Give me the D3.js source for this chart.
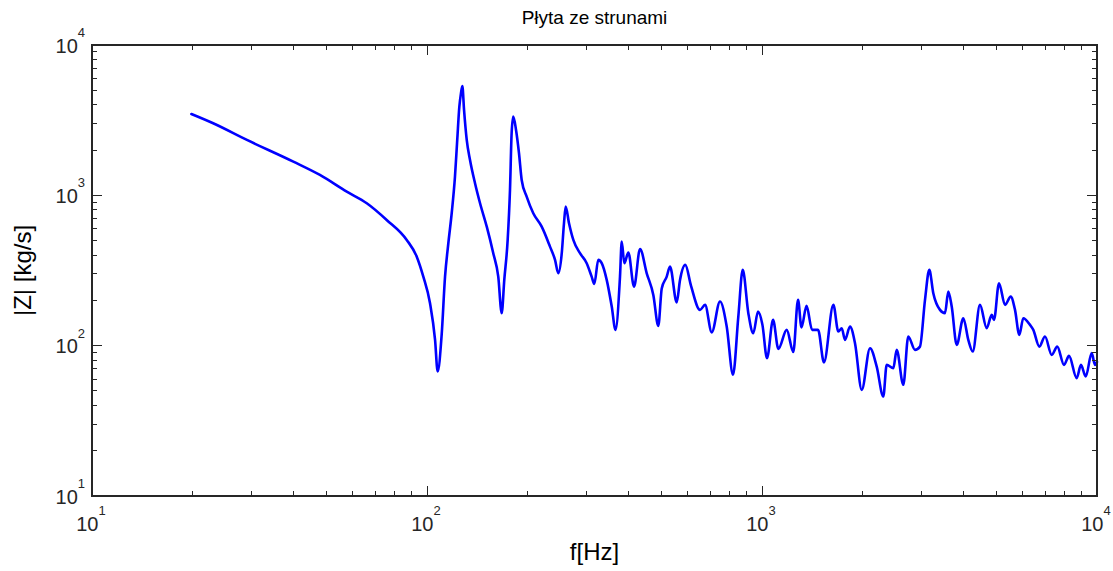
<!DOCTYPE html>
<html>
<head>
<meta charset="utf-8">
<script src="https://cdn.jsdelivr.net/npm/d3@7"></script>
<style>
  html, body { margin: 0; padding: 0; background: #fff; }
  svg { display: block; font-family: "Liberation Sans", Arial, sans-serif; }
</style>
</head>
<body>
<svg id="chart" width="1113" height="571"></svg>
<script>
const title = "Płyta ze strunami";
const xLabel = "f[Hz]";
const yLabel = "|Z| [kg/s]";
const xDecades = [1, 2, 3, 4];
const yDecades = [1, 2, 3, 4];

const freq = [19.8, 23.0, 29.0, 39.9, 47.9, 57.6, 66.1, 75.8, 87.0, 93.2, 97.5, 102.1, 105.7, 107.6, 110.6,
  113.2, 115.8, 118.5, 121.2, 123.1, 124.9, 126.3, 127.5, 129.0, 131.4, 134.4, 139.1, 144.0, 150.8, 157.7,
  163.2, 167.1, 170.1, 174.1, 176.9, 178.9, 180.9, 184.4, 188.2, 191.7, 198.4, 207.6, 220.0, 232.9, 241.1,
  246.6, 252.5, 256.4, 259.4, 265.4, 273.4, 286.2, 299.7, 310.1, 315.8, 324.6, 332.3, 343.9, 356.0, 365.3,
  376.8, 381.3, 388.2, 399.0, 415.0, 432.4, 452.8, 473.8, 490.3, 502.0, 519.5, 531.4, 556.5, 569.2, 590.2,
  614.0, 653.1, 676.1, 707.9, 749.3, 784.6, 819.3, 849.8, 875.9, 910.3, 942.0, 973.0, 1003, 1035, 1079,
  1119, 1185, 1240, 1281, 1312, 1358, 1411, 1470, 1531, 1633, 1690, 1730, 1769, 1831, 1895,
  1985, 2101, 2200, 2302, 2356, 2466, 2524, 2641, 2733, 2862, 2962, 3066, 3158, 3246, 3399,
  3518, 3598, 3684, 3813, 3990, 4129, 4256, 4474, 4685, 4850, 4926, 5099, 5314, 5526, 5692,
  5863, 6026, 6310, 6455, 6727, 6995, 7324, 7611, 7971, 8250, 8697, 8957, 9253, 9643, 9862, 10000];

const mag = [3476, 3016, 2336, 1675, 1366, 1058, 886, 686, 505, 391, 288, 191.7, 109.3, 67.3, 118,
  288, 480, 760, 1331, 2336, 3888, 4774, 5339, 3697, 2336, 1719, 1204, 886, 619, 412,
  288, 164.5, 273.8, 505, 1086, 2588, 3337, 2721, 1905, 1266, 980, 760, 619, 456, 372,
  303, 412, 652, 841, 652, 505, 412, 353.7, 288, 257.6, 372, 353.7, 273.8, 182, 127.4,
  288, 492, 353.7, 417, 247, 440, 303, 217.6, 135.4, 240.4, 288, 335.7, 194, 273.8, 344.5,
  249.8, 173, 186.7, 122.6, 196.5, 134, 64, 156.1, 319.2, 164.5, 121.1, 168.5, 137.5, 82.6, 148.4,
  95.2, 127.4, 90.9, 201.6, 132.3, 183.9, 127.4, 127.4, 77.4, 186.7, 124.1, 130.7, 109.3, 134, 103.9,
  50.8, 96.2, 72.6, 45.9, 74.5, 70.9, 93.8, 54.9, 115.0, 93.8, 98.6, 201.6, 319.2, 223.5, 173,
  164.5, 228.9, 182, 101.2, 152.3, 109.3, 91.4, 186.7, 130.7, 160.2, 148.4, 260.4, 186.7, 212.1, 173,
  118, 152.3, 137.5, 127.4, 98.6, 115, 86.9, 98.6, 74.5, 85.5, 60.8, 74.5, 62.3, 89.2, 74.5, 78.0];

const svg = d3.select("#chart");
const L = 92, R = 1097, T = 45, B = 496;

const x = d3.scaleLog().domain([10, 1e4]).range([L, R]);
const y = d3.scaleLog().domain([10, 1e4]).range([B, T]);

const axisColor = "#262626";

const xTicks = [], yTicks = [];
for (let k = 1; k < 4; k++) for (let m = 1; m <= 9; m++) { xTicks.push(m * Math.pow(10, k)); yTicks.push(m * Math.pow(10, k)); }
xTicks.push(1e4); yTicks.push(1e4);
const isMajor = v => Math.abs(Math.log10(v) - Math.round(Math.log10(v))) < 1e-9;

const g = svg.append("g");

// data line
const line = d3.line().x((d, i) => x(freq[i])).y((d, i) => y(mag[i])).curve(d3.curveMonotoneX);
g.append("path")
  .datum(freq)
  .attr("d", line)
  .attr("fill", "none")
  .attr("stroke", "#0000ff")
  .attr("stroke-width", 2.6)
  .attr("stroke-linejoin", "round")
  .attr("stroke-linecap", "round");

// ticks on all sides
const tickG = g.append("g").attr("stroke", axisColor).attr("stroke-width", 1).attr("shape-rendering", "crispEdges");
xTicks.forEach(v => {
  const len = isMajor(v) ? 10 : 5;
  const px = x(v);
  tickG.append("line").attr("x1", px).attr("x2", px).attr("y1", B).attr("y2", B - len);
  tickG.append("line").attr("x1", px).attr("x2", px).attr("y1", T).attr("y2", T + len);
});
yTicks.forEach(v => {
  const len = isMajor(v) ? 10 : 5;
  const py = y(v);
  tickG.append("line").attr("x1", L).attr("x2", L + len).attr("y1", py).attr("y2", py);
  tickG.append("line").attr("x1", R).attr("x2", R - len).attr("y1", py).attr("y2", py);
});

// frame
g.append("rect")
  .attr("x", L).attr("y", T).attr("width", R - L).attr("height", B - T)
  .attr("fill", "none").attr("stroke", axisColor).attr("stroke-width", 1.3)
  .attr("shape-rendering", "crispEdges");

// tick labels
xDecades.forEach(k => {
  const t = g.append("text")
    .attr("x", x(Math.pow(10, k)) - 1)
    .attr("y", B + 35)
    .attr("text-anchor", "middle")
    .attr("font-size", 20)
    .attr("fill", "#262626");
  t.append("tspan").text("10");
  t.append("tspan").attr("dy", -16).attr("font-size", 13).text(k);
});
yDecades.forEach(k => {
  const t = g.append("text")
    .attr("x", L - 7)
    .attr("y", y(Math.pow(10, k)) + 7.5)
    .attr("text-anchor", "end")
    .attr("font-size", 20)
    .attr("fill", "#262626");
  t.append("tspan").text("10");
  t.append("tspan").attr("dy", -15.5).attr("font-size", 13).text(k);
});

// title and axis labels
svg.append("text")
  .attr("x", (L + R) / 2).attr("y", 24)
  .attr("text-anchor", "middle").attr("font-size", 19).attr("fill", "#000")
  .text(title);
svg.append("text")
  .attr("x", (L + R) / 2).attr("y", 560)
  .attr("text-anchor", "middle").attr("font-size", 24).attr("fill", "#000")
  .text(xLabel);
svg.append("text")
  .attr("transform", `translate(31, ${(T + B) / 2}) rotate(-90)`)
  .attr("text-anchor", "middle").attr("font-size", 24).attr("fill", "#000")
  .text(yLabel);
</script>
</body>
</html>
